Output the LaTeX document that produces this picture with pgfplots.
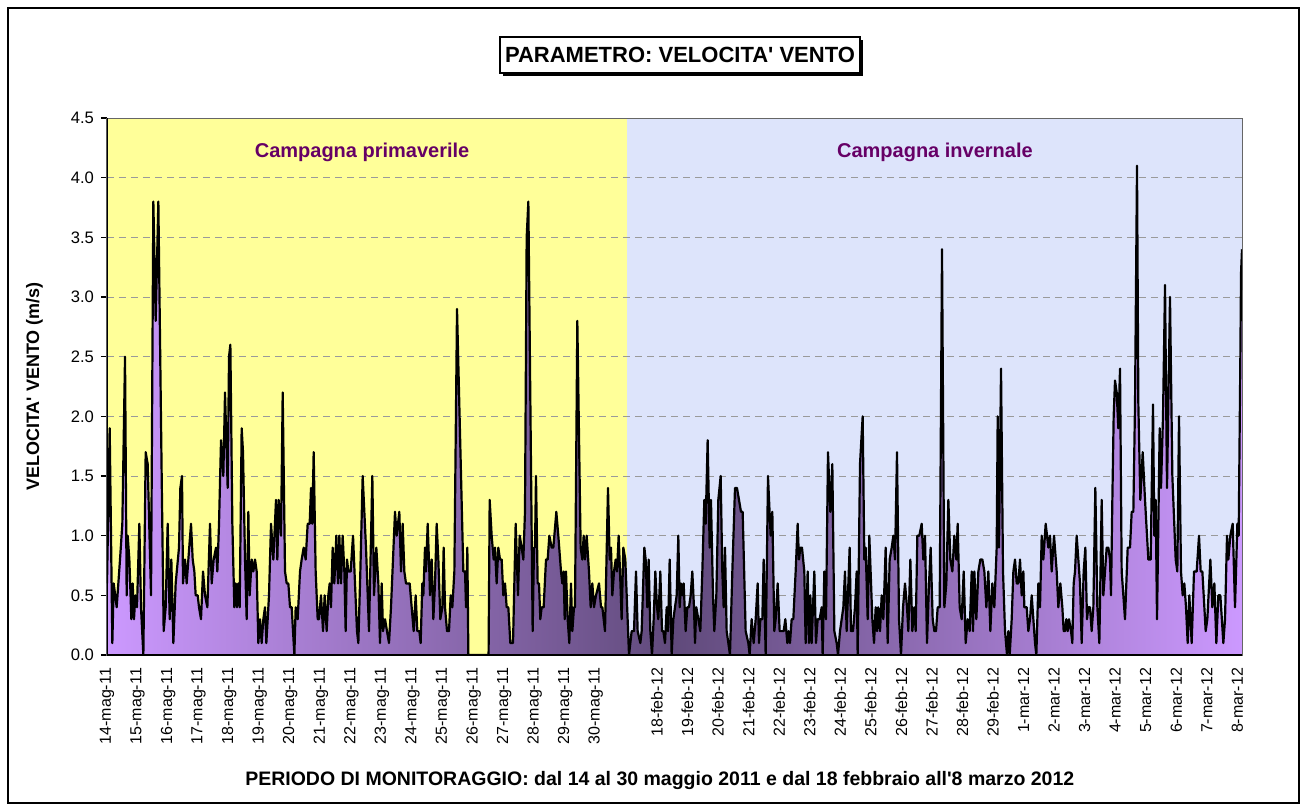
\documentclass[border=0pt]{standalone}
\usepackage{pgfplots}
\pgfplotsset{compat=1.18}
\usepackage{pgfplotstable}
\usepackage{fontspec}
\setmainfont{Liberation Sans}
\definecolor{bgyellow}{HTML}{FFFF99}
\definecolor{bgblue}{HTML}{DDE4FB}
\definecolor{lav}{HTML}{CC99FF}
\definecolor{dkpurp}{HTML}{604A7B}
\definecolor{camp}{HTML}{660066}
\definecolor{gridc}{HTML}{9A9A9A}
% area fill: light at both ends, dark in the middle
\pgfdeclarehorizontalshading{areafill}{100bp}{color(0bp)=(lav); color(25bp)=(lav); color(50bp)=(dkpurp); color(75bp)=(lav); color(100bp)=(lav)}
% plot background: spring (yellow) up to day 17, winter (blue) after
\pgfdeclarehorizontalshading{bgsplit}{100bp}{color(0bp)=(bgyellow); color(25bp)=(bgyellow); color(47.88bp)=(bgyellow); color(47.9bp)=(bgblue); color(75bp)=(bgblue); color(100bp)=(bgblue)}

% wind speed, x = days from 14 May 2011 (winter part continues from day 17)
\pgfplotstableread{
x y
0 0.6
0.088 1.9
0.175 0.1
0.219 0.6
0.317 0.4
0.426 0.8
0.502 1.1
0.590 2.5
0.644 0.5
0.677 1.0
0.732 0.8
0.797 0.3
0.841 0.6
0.884 0.3
0.928 0.5
0.982 0.4
1.059 1.1
1.113 0.4
1.190 0
1.266 1.7
1.332 1.6
1.441 0.5
1.517 3.8
1.594 2.8
1.681 3.8
1.790 1.5
1.855 0.2
1.921 0.4
1.986 1.1
2.052 0.3
2.106 0.8
2.172 0.1
2.248 0.6
2.357 0.9
2.401 1.4
2.455 1.5
2.488 0.6
2.554 0.8
2.608 0.6
2.663 0.8
2.750 1.1
2.805 0.8
2.859 0.7
2.903 0.5
2.968 0.5
3.012 0.4
3.077 0.3
3.143 0.7
3.208 0.5
3.285 0.4
3.372 1.1
3.427 0.6
3.492 0.8
3.568 0.9
3.612 0.7
3.667 1.1
3.732 1.8
3.808 1.5
3.863 2.2
3.950 1.4
3.994 2.5
4.038 2.6
4.103 1.1
4.168 0.4
4.212 0.6
4.256 0.4
4.299 0.6
4.343 0.4
4.408 1.9
4.452 1.7
4.518 0.8
4.572 0.3
4.627 1.2
4.670 0.5
4.736 0.8
4.790 0.7
4.845 0.8
4.900 0.7
4.954 0.1
5.009 0.3
5.063 0.1
5.118 0.3
5.172 0.4
5.216 0.1
5.303 0.5
5.369 1.1
5.445 0.8
5.532 1.3
5.576 0.8
5.620 1.3
5.696 1.0
5.751 2.2
5.827 0.7
5.882 0.6
5.936 0.6
5.991 0.4
6.045 0.4
6.133 0
6.176 0.4
6.241 0.3
6.318 0.7
6.372 0.8
6.438 0.9
6.503 0.8
6.569 1.1
6.634 1.1
6.678 1.4
6.721 1.1
6.765 1.7
6.830 0.7
6.896 0.3
6.940 0.3
7.005 0.5
7.071 0.2
7.125 0.5
7.191 0.2
7.245 0.5
7.289 0.6
7.332 0.4
7.387 0.9
7.441 0.6
7.507 1.0
7.562 0.6
7.605 1.0
7.660 0.6
7.714 1.0
7.769 0.7
7.812 0.2
7.856 0.8
7.900 0.7
7.976 0.7
8.053 1.0
8.118 0.6
8.183 0.2
8.227 0.1
8.293 0.7
8.369 1.5
8.478 0.9
8.576 0.2
8.685 1.5
8.740 0.5
8.816 0.9
8.882 0.6
8.936 0.1
8.991 0.6
9.035 0.2
9.100 0.3
9.165 0.2
9.231 0.1
9.296 0.4
9.427 1.2
9.482 1.0
9.569 1.2
9.624 0.7
9.678 1.1
9.733 0.7
9.787 0.6
9.907 0.6
9.973 0.4
10.038 0.2
10.104 0.5
10.158 0.2
10.224 0.2
10.267 0.1
10.322 0.6
10.355 0.5
10.409 0.9
10.442 0.7
10.497 1.1
10.551 0.7
10.573 0.5
10.628 0.8
10.682 0.3
10.737 0.6
10.791 1.1
10.846 0.8
10.911 0.3
10.977 0.4
11.020 0.9
11.064 0.4
11.130 0.2
11.195 0.2
11.250 0.5
11.304 0.4
11.370 0.7
11.457 2.9
11.664 0.7
11.719 0.7
11.752 0.4
11.795 0.9
11.828 0
12.490 0
12.526 1.3
12.591 1.0
12.657 0.8
12.700 0.9
12.755 0.6
12.809 0.9
12.864 0.8
12.919 0.8
12.973 0.5
13.028 0.6
13.082 0.4
13.137 0.4
13.202 0.1
13.290 0.1
13.377 1.1
13.453 0.5
13.508 1.0
13.573 0.9
13.628 0.8
13.682 1.2
13.737 3.5
13.792 3.8
13.933 0.2
13.977 0.9
14.010 0.9
14.042 1.5
14.097 0.6
14.141 0.6
14.184 0.3
14.228 0.4
14.293 0.4
14.370 0.8
14.424 0.8
14.479 1.0
14.555 0.9
14.610 0.9
14.708 1.2
14.773 1.0
14.861 0.7
14.904 0.6
14.948 0.7
14.981 0.3
15.024 0.7
15.079 0.3
15.133 0.1
15.188 0.6
15.232 0.2
15.286 0.4
15.319 0.4
15.395 2.8
15.504 0.9
15.559 0.8
15.603 1.0
15.646 0.8
15.701 1.0
15.777 0.7
15.832 0.4
15.886 0.6
15.941 0.4
16.006 0.5
16.105 0.6
16.170 0.4
16.214 0.4
16.301 0.2
16.399 1.4
16.454 0.8
16.497 0.9
16.541 0.5
16.596 0.7
16.650 0.8
16.694 0.7
16.748 1.0
16.792 0.7
16.846 0.3
16.901 0.9
16.966 0.8
17.087 0
17.174 0.2
17.250 0.2
17.316 0.7
17.370 0.2
17.458 0.1
17.501 0.2
17.589 0.9
17.632 0.8
17.687 0.4
17.730 0.8
17.785 0.2
17.840 0
17.894 0.3
17.949 0.7
18.003 0.4
18.047 0.3
18.112 0.7
18.167 0.2
18.210 0.2
18.265 0.1
18.320 0.4
18.363 0.2
18.418 0.8
18.483 0
18.538 0.3
18.592 0.4
18.647 0.5
18.701 1.0
18.745 0.4
18.788 0.6
18.832 0.5
18.876 0.6
18.941 0.2
18.996 0.4
19.050 0.4
19.105 0.5
19.159 0.7
19.214 0.4
19.247 0.1
19.290 0.4
19.356 0.3
19.421 0.2
19.487 0.7
19.552 1.3
19.596 1.1
19.661 1.8
19.727 0.9
19.770 1.3
19.836 0.5
19.879 0.2
19.945 0.5
20.010 1.3
20.087 1.5
20.141 0.7
20.185 0.4
20.229 0.9
20.283 0.2
20.338 0.1
20.392 0
20.469 0.7
20.556 1.4
20.621 1.4
20.687 1.3
20.752 1.2
20.807 1.2
20.905 0.2
20.992 0.1
21.036 0
21.101 0.3
21.167 0.1
21.233 0.3
21.298 0.6
21.342 0.1
21.385 0.3
21.451 0.3
21.494 0.8
21.560 0
21.636 1.5
21.723 1.0
21.778 1.2
21.843 0.2
21.887 0.3
21.953 0.6
22.018 0.2
22.084 0.2
22.149 0.2
22.204 0.3
22.269 0.1
22.313 0.2
22.356 0.1
22.411 0.3
22.465 0.3
22.542 0.7
22.607 1.1
22.651 0.8
22.695 0.9
22.749 0.9
22.825 0.7
22.869 0.1
22.935 0.7
22.978 0.1
23.022 0.5
23.065 0.1
23.153 0.7
23.207 0.1
23.262 0.3
23.327 0.3
23.393 0.4
23.425 0
23.480 0.7
23.535 0.3
23.600 1.7
23.677 1.2
23.742 1.6
23.808 0.2
23.884 0.1
23.928 0
23.993 0.2
24.048 0.3
24.102 0.4
24.157 0.7
24.211 0.2
24.309 0.9
24.353 0.2
24.418 0.2
24.484 0.4
24.539 0.7
24.571 0
24.648 1.6
24.735 2.0
24.790 0.8
24.833 0.9
24.899 0.3
24.953 1.0
25.052 0.3
25.107 0.1
25.161 0.4
25.205 0.2
25.248 0.4
25.303 0.2
25.358 0.5
25.412 0.3
25.488 0.9
25.554 0.1
25.619 0.8
25.685 0.9
25.739 1.0
25.794 0.8
25.859 1.7
25.925 0.3
25.990 0
26.056 0.4
26.121 0.6
26.187 0.4
26.230 0.2
26.296 0.8
26.361 0.2
26.427 0.4
26.470 0.2
26.525 1.0
26.590 1.0
26.667 1.1
26.721 0.8
26.776 1.0
26.841 0.1
26.907 0.6
26.961 0.9
27.027 0.3
27.081 0.2
27.136 0.2
27.191 0.4
27.256 0.4
27.332 3.4
27.409 0.4
27.474 0.6
27.540 1.3
27.605 0.8
27.671 0.7
27.736 1.0
27.802 0.8
27.845 1.1
27.911 0.4
27.976 0.3
28.042 0.7
28.107 0.1
28.173 0.3
28.238 0.2
28.304 0.7
28.347 0.2
28.391 0.7
28.456 0.3
28.522 0.7
28.587 0.8
28.653 0.8
28.718 0.7
28.784 0.4
28.849 0.7
28.915 0.2
28.980 0.6
29.045 0.4
29.122 0.9
29.155 2.0
29.198 0.9
29.264 2.4
29.329 0.7
29.395 0.2
29.460 0
29.504 0.2
29.548 0
29.613 0.3
29.668 0.7
29.722 0.8
29.777 0.6
29.831 0.6
29.886 0.8
29.940 0.5
29.995 0.7
30.027 0.4
30.104 0.4
30.158 0.2
30.213 0.3
30.268 0.5
30.377 0.1
30.420 0
30.486 0.6
30.540 0.4
30.595 1.0
30.649 0.8
30.726 1.1
30.813 0.9
30.868 1.0
30.922 0.7
30.999 1.0
31.086 0.7
31.140 0.4
31.206 0.6
31.271 0.4
31.315 0.2
31.358 0.2
31.402 0.3
31.446 0.2
31.489 0.3
31.555 0.2
31.598 0.1
31.642 0.6
31.686 0.7
31.740 1.0
31.795 0.8
31.849 0.6
31.904 0.1
31.969 0.7
32.024 0.9
32.078 0.3
32.122 0.4
32.177 0.4
32.231 0.2
32.286 0.4
32.351 1.4
32.417 0.4
32.482 0.1
32.559 1.3
32.613 0.5
32.668 0.7
32.722 0.9
32.777 0.9
32.831 0.8
32.864 0.5
32.908 1.3
32.951 2.0
32.995 2.3
33.050 2.2
33.104 1.9
33.159 2.4
33.213 0.7
33.268 0.5
33.322 0.3
33.410 0.9
33.486 0.9
33.541 1.2
33.595 1.2
33.650 2.1
33.715 4.1
33.759 2.1
33.824 1.3
33.901 1.7
33.977 1.3
34.086 0.8
34.162 0.8
34.239 2.1
34.282 1.0
34.326 1.3
34.370 0.3
34.457 1.9
34.501 1.4
34.566 2.0
34.632 3.1
34.697 1.4
34.795 3.0
34.872 1.5
34.981 0.8
35.035 0.7
35.090 2.0
35.155 0.7
35.210 0.5
35.264 0.6
35.319 0.4
35.374 0.1
35.428 0.5
35.504 0.1
35.581 0.7
35.668 0.7
35.745 1.0
35.799 0.7
35.854 0.7
35.963 0.2
36.017 0.3
36.116 0.8
36.181 0.4
36.247 0.6
36.312 0.1
36.378 0.5
36.443 0.5
36.541 0.1
36.596 0.3
36.661 1.0
36.705 0.8
36.770 1.0
36.847 1.1
36.923 0.4
37.000 1.1
37.043 1.0
37.098 2.5
37.120 3.2
37.152 3.4
}\vento

\begin{document}
\begin{tikzpicture}
\useasboundingbox (0,0) rectangle (653.5pt,405.5pt);
\draw[black,line width=0.7pt] (4pt,4pt) rectangle (649.5pt,401.5pt);
\begin{axis}[
  scale only axis, width=567.5pt, height=268.5pt,
  at={(53.5pt,78pt)}, anchor=south west,
  xmin=0, xmax=37.152, ymin=0, ymax=4.5,
  axis background/.style={shade,shading=bgsplit},
  ytick={0,0.5,1,1.5,2,2.5,3,3.5,4,4.5},
  ytick pos=left,
  xtick={0,1,2,3,4,5,6,7,8,9,10,11,12,13,14,15,16,18,19,20,21,22,23,24,25,26,27,28,29,30,31,32,33,34,35,36,37},
  xticklabels={14-mag-11,15-mag-11,16-mag-11,17-mag-11,18-mag-11,19-mag-11,20-mag-11,21-mag-11,22-mag-11,23-mag-11,24-mag-11,25-mag-11,26-mag-11,27-mag-11,28-mag-11,29-mag-11,30-mag-11,18-feb-12,19-feb-12,20-feb-12,21-feb-12,22-feb-12,23-feb-12,24-feb-12,25-feb-12,26-feb-12,27-feb-12,28-feb-12,29-feb-12,1-mar-12,2-mar-12,3-mar-12,4-mar-12,5-mar-12,6-mar-12,7-mar-12,8-mar-12},
  xticklabel style={rotate=90,anchor=east,font=\fontsize{8}{10}\selectfont},
  yticklabel style={font=\fontsize{8.3}{10}\selectfont,
    /pgf/number format/fixed,/pgf/number format/fixed zerofill,
    /pgf/number format/precision=1,/pgf/number format/assume math mode=true},
  xtick style={draw=none},
  ytick style={draw=black,line width=0.6pt},
  tick align=outside, major tick length=3pt,
  ymajorgrids, grid style={draw=gridc,line width=0.5pt,dash pattern=on 3.5pt off 2.5pt},
  axis line style={draw=gray!80!black,line width=0.5pt},
  ylabel={\bfseries VELOCITA\textquotesingle{} VENTO (m/s)},
  ylabel style={at={(axis description cs:-0.064,0.5)},anchor=center,font=\fontsize{9}{11}\selectfont},
  xlabel={\bfseries PERIODO DI MONITORAGGIO: dal 14 al 30 maggio 2011 e dal 18 febbraio all\textquotesingle{}8 marzo 2012},
  xlabel style={at={(axis description cs:0.487,-0.233)},anchor=center,font=\fontsize{9.75}{11}\selectfont},
]
\addplot[shade,shading=areafill,draw=none] table {\vento} \closedcycle;
\addplot[black,line width=1.1pt,line join=round,mark=none] table {\vento};
\node[font=\bfseries\fontsize{10}{12}\selectfont,text=camp] at (axis cs:8.35,4.215) {Campagna primaverile};
\node[font=\bfseries\fontsize{10}{12}\selectfont,text=camp] at (axis cs:27.1,4.215) {Campagna invernale};
\draw[black,line width=0.9pt] (rel axis cs:0,1) -- (rel axis cs:0,0) -- (rel axis cs:1,0);
\end{axis}
\fill[black] (251.5pt,367.5pt) rectangle (431.5pt,385.5pt);
\node[draw=black,fill=white,line width=0.8pt,minimum width=180pt,minimum height=18pt,inner sep=0pt,
  font=\bfseries\fontsize{11}{12}\selectfont] at (340pt,378pt) {PARAMETRO: VELOCITA\textquotesingle{} VENTO};
\end{tikzpicture}
\end{document}
